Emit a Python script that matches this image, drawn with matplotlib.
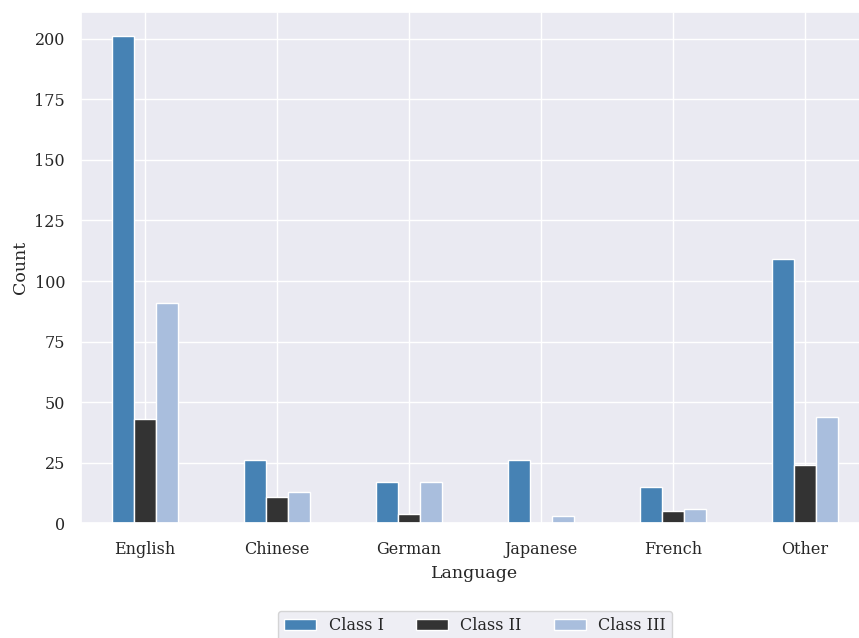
import numpy as np
import matplotlib
matplotlib.use("Agg")
import matplotlib.pyplot as plt
import seaborn as sns

languages = ["English", "Chinese", "German", "Japanese", "French", "Other"]
class_i = [201, 26, 17, 26, 15, 109]
class_ii = [43, 11, 4, 0, 5, 24]
class_iii = [91, 13, 17, 3, 6, 44]
series_names = ["Class I", "Class II", "Class III"]
series_colors = ["#4682B4", "#333333", "#A9BEDD"]

sns.set_theme(style="darkgrid")
plt.rcParams["font.family"] = ["DejaVu Serif"]
plt.rcParams["font.size"] = 11.5

fig = plt.figure(figsize=(8.59, 6.38), dpi=100)
ax = fig.add_axes([0.0943, 0.1798, 1.0116 - 0.0943, 0.9812 - 0.1798])

x = np.arange(len(languages))
width = 0.5 / 3
for k, (vals, name, col) in enumerate(zip([class_i, class_ii, class_iii], series_names, series_colors)):
    ax.bar(x + (k - 1) * width, vals, width, label=name, color=col,
           edgecolor="white", linewidth=1.0)

ax.set_xticks(x)
ax.set_xticklabels(languages, fontsize=11.5)
ax.set_xlim(-0.485, len(languages) - 1 + 0.485)
ax.set_yticks([0, 25, 50, 75, 100, 125, 150, 175, 200])
ax.tick_params(axis="x", labelsize=11.5, pad=6.5)
ax.tick_params(axis="y", labelsize=11.5, pad=5.5)
ax.set_xlabel("Language", fontsize=12.5, labelpad=5)
ax.set_ylabel("Count", fontsize=12.5)

ax.legend(loc="upper center", bbox_to_anchor=(0.5, -0.156), ncol=3, fontsize=11.5)

fig.savefig("out.png", dpi=100)
